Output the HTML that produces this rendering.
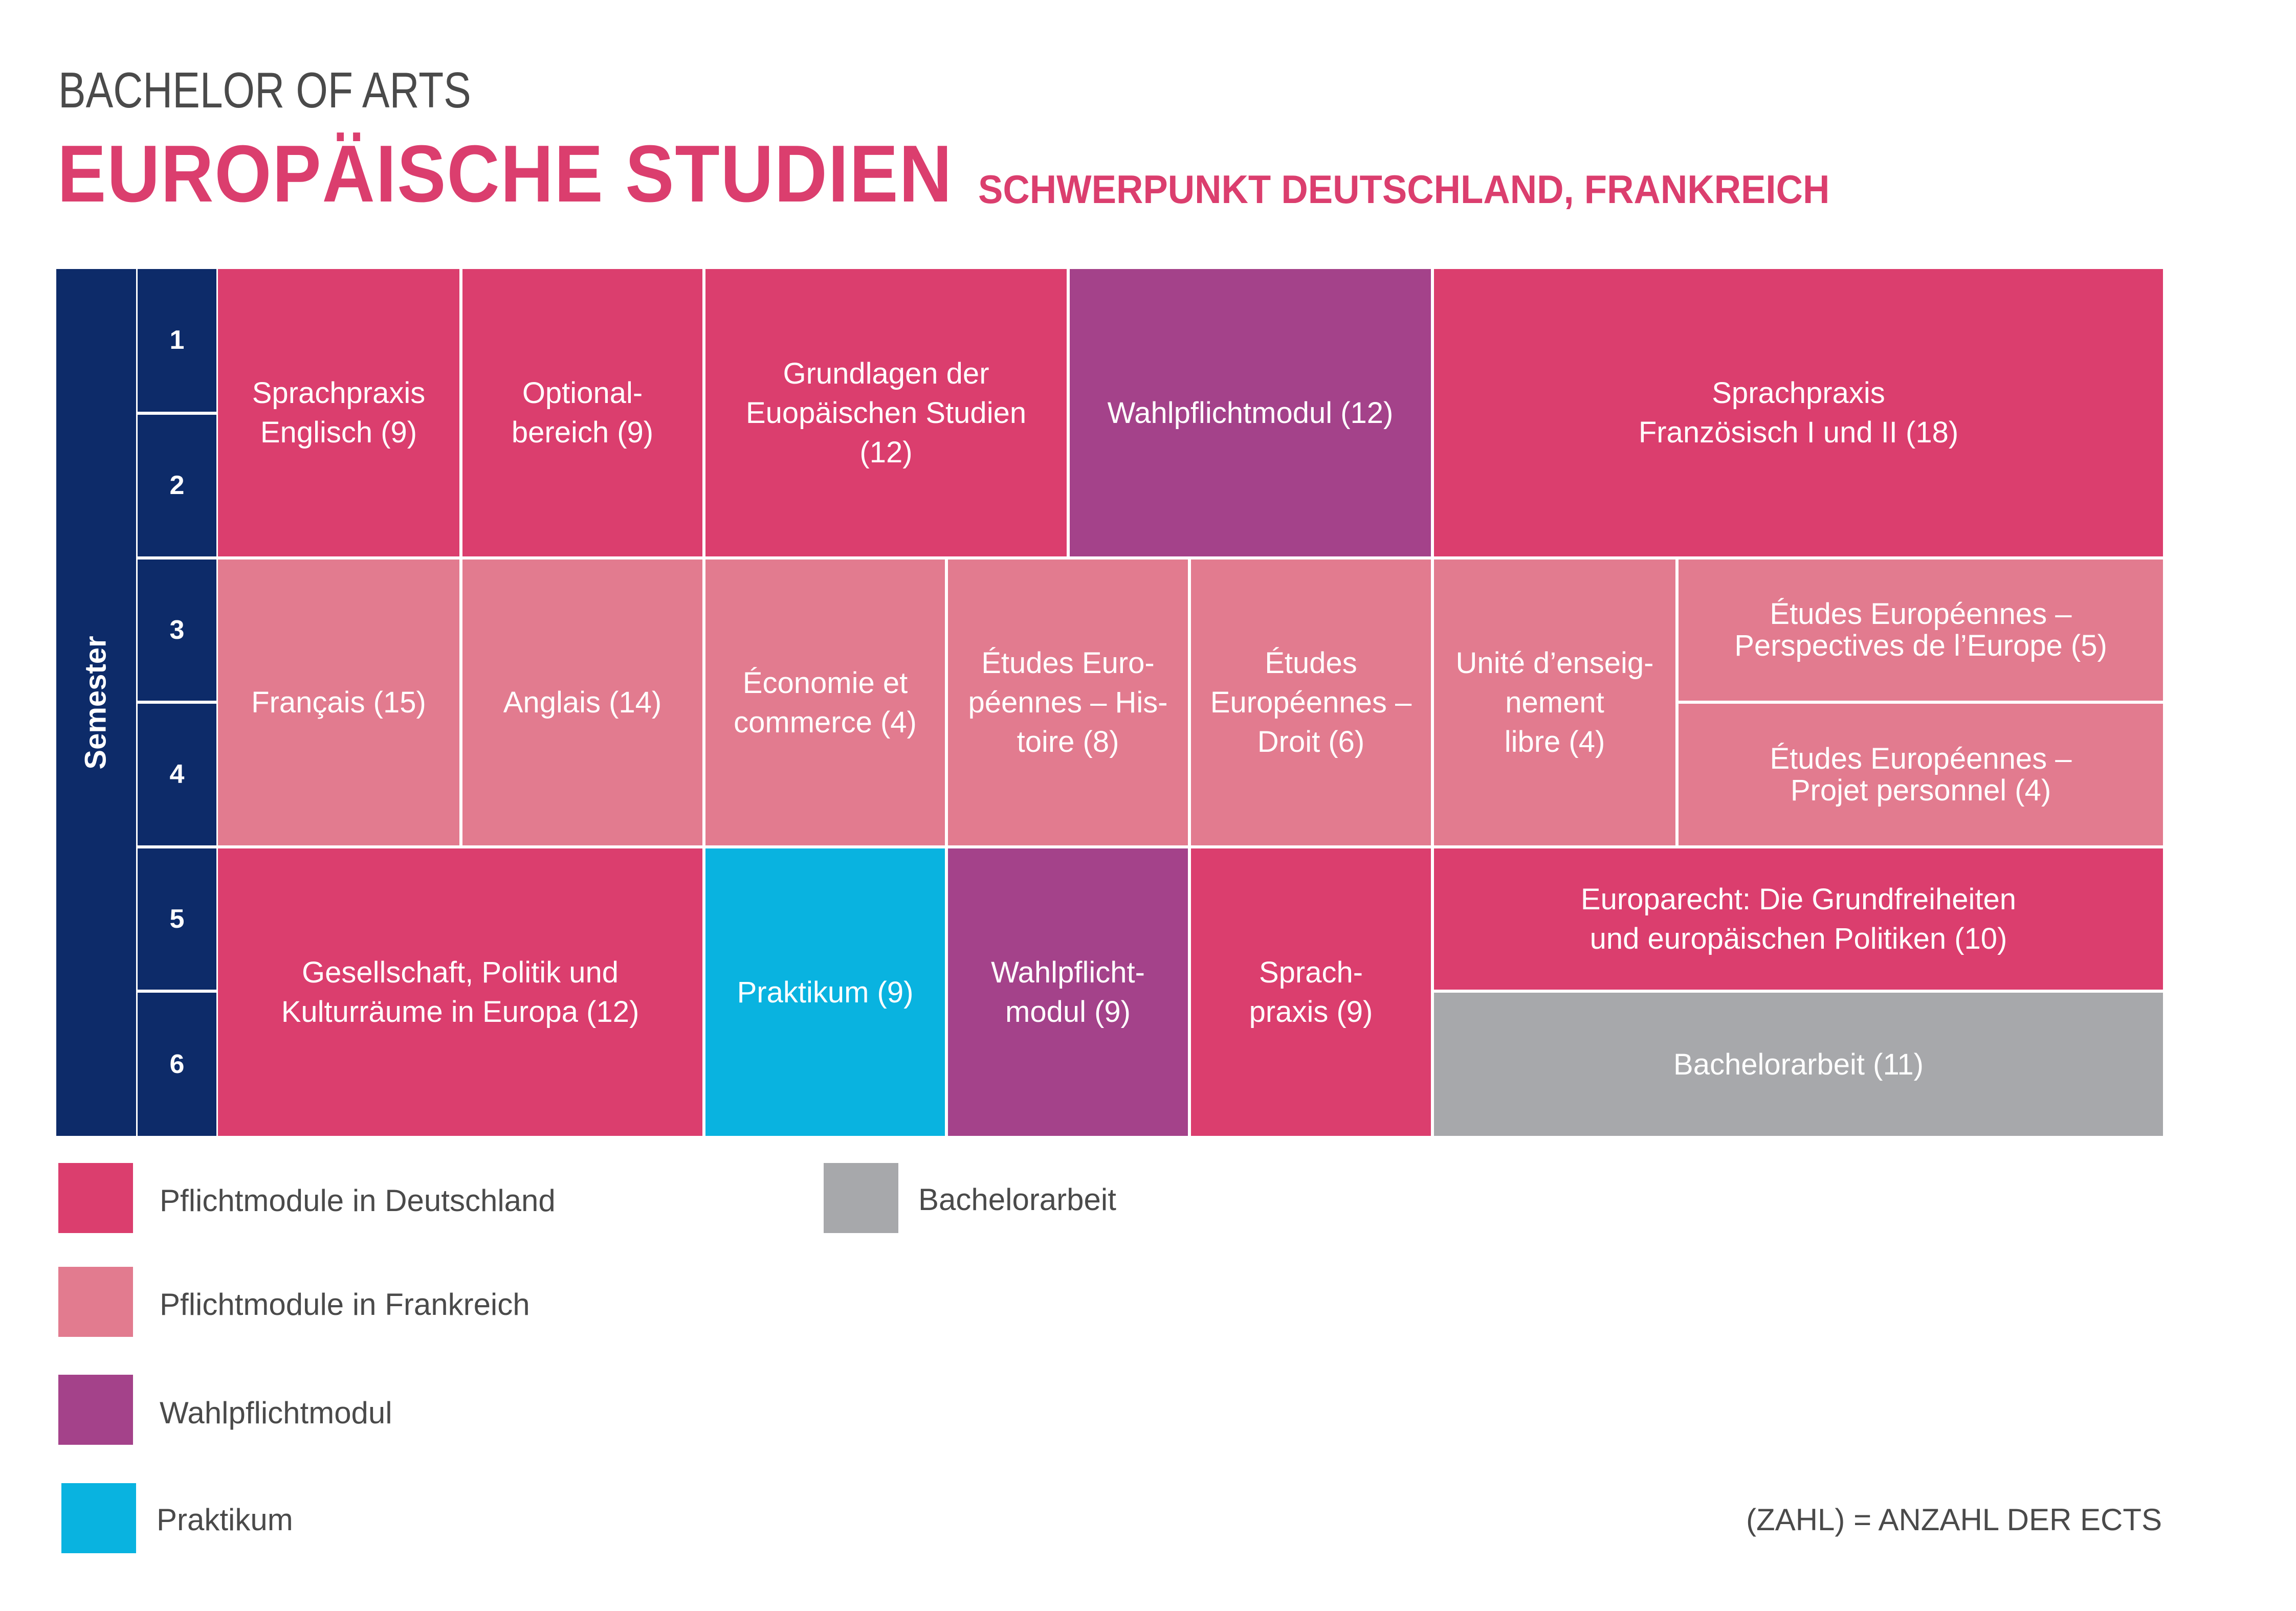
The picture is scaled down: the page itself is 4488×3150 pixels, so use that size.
<!DOCTYPE html>
<html><head><meta charset="utf-8"><style>
*{margin:0;padding:0;box-sizing:border-box}
body{width:4488px;height:3150px;background:#fff;position:relative;overflow:hidden;font-family:"Liberation Sans",sans-serif}
.t{position:absolute;white-space:nowrap;transform-origin:0 0}
.c{position:absolute;display:flex;align-items:center;justify-content:center;text-align:center;color:#fff;font-size:58px;line-height:77px}
.p{background:#db3e6e}.l{background:#e27b8f}.v{background:#a4428a}.k{background:#09b3e0}.g{background:#a7a8ab}.n{background:#0d2b69}
.num{font-weight:bold;font-size:52px}
.sw{position:absolute;width:146px;height:137px}
.lg{position:absolute;font-size:60px;color:#4a4a4a;line-height:60px}
</style></head><body>
<div class="t" style="left:114px;top:120px;font-size:98px;color:#4a4a4a;transform:scaleX(0.82)">BACHELOR OF ARTS</div>
<div class="t" style="left:112px;top:250px;font-size:158px;color:#db3e6e;font-weight:bold;letter-spacing:2px;transform:scaleX(0.905)">EUROPÄISCHE STUDIEN</div>
<div class="t" style="left:1912px;top:325px;font-size:78px;color:#db3e6e;font-weight:bold;transform:scaleX(0.93)">SCHWERPUNKT DEUTSCHLAND, FRANKREICH</div>

<div class="c n" style="left:110px;top:526px;width:156px;height:1695px"><div style="transform:rotate(-90deg);font-size:58px;font-weight:bold;line-height:58px">Semester</div></div>
<div class="c n num" style="left:269px;top:526px;width:154px;height:279px">1</div>
<div class="c n num" style="left:269px;top:811px;width:154px;height:277px">2</div>
<div class="c n num" style="left:269px;top:1094px;width:154px;height:276px">3</div>
<div class="c n num" style="left:269px;top:1376px;width:154px;height:277px">4</div>
<div class="c n num" style="left:269px;top:1659px;width:154px;height:276px">5</div>
<div class="c n num" style="left:269px;top:1941px;width:154px;height:280px">6</div>

<div class="c p" style="left:426px;top:526px;width:472px;height:562px">Sprachpraxis<br>Englisch (9)</div>
<div class="c p" style="left:904px;top:526px;width:469px;height:562px">Optional-<br>bereich (9)</div>
<div class="c p" style="left:1379px;top:526px;width:706px;height:562px">Grundlagen der<br>Euopäischen Studien<br>(12)</div>
<div class="c v" style="left:2091px;top:526px;width:706px;height:562px">Wahlpflichtmodul (12)</div>
<div class="c p" style="left:2803px;top:526px;width:1425px;height:562px">Sprachpraxis<br>Französisch I und II (18)</div>
<div class="c l" style="left:426px;top:1094px;width:472px;height:559px">Français (15)</div>
<div class="c l" style="left:904px;top:1094px;width:469px;height:559px">Anglais (14)</div>
<div class="c l" style="left:1379px;top:1094px;width:468px;height:559px">Économie et<br>commerce (4)</div>
<div class="c l" style="left:1853px;top:1094px;width:469px;height:559px">Études Euro-<br>péennes – His-<br>toire (8)</div>
<div class="c l" style="left:2328px;top:1094px;width:469px;height:559px">Études<br>Européennes –<br>Droit (6)</div>
<div class="c l" style="left:2803px;top:1094px;width:472px;height:559px">Unité d’enseig-<br>nement<br>libre (4)</div>
<div class="c l" style="left:3281px;top:1094px;width:947px;height:276px;line-height:62px">Études Européennes –<br>Perspectives de l’Europe (5)</div>
<div class="c l" style="left:3281px;top:1376px;width:947px;height:277px;line-height:62px">Études Européennes –<br>Projet personnel (4)</div>
<div class="c p" style="left:426px;top:1659px;width:947px;height:562px">Gesellschaft, Politik und<br>Kulturräume in Europa (12)</div>
<div class="c k" style="left:1379px;top:1659px;width:468px;height:562px">Praktikum (9)</div>
<div class="c v" style="left:1853px;top:1659px;width:469px;height:562px">Wahlpflicht-<br>modul (9)</div>
<div class="c p" style="left:2328px;top:1659px;width:469px;height:562px">Sprach-<br>praxis (9)</div>
<div class="c p" style="left:2803px;top:1659px;width:1425px;height:276px">Europarecht: Die Grundfreiheiten<br>und europäischen Politiken (10)</div>
<div class="c g" style="left:2803px;top:1941px;width:1425px;height:280px">Bachelorarbeit (11)</div>

<div class="sw p" style="left:114px;top:2274px"></div>
<div class="sw l" style="left:114px;top:2477px"></div>
<div class="sw v" style="left:114px;top:2688px"></div>
<div class="sw k" style="left:120px;top:2900px"></div>
<div class="sw g" style="left:1610px;top:2274px"></div>
<div class="lg" style="left:312px;top:2318px">Pflichtmodule in Deutschland</div>
<div class="lg" style="left:312px;top:2521px">Pflichtmodule in Frankreich</div>
<div class="lg" style="left:312px;top:2733px">Wahlpflichtmodul</div>
<div class="lg" style="left:306px;top:2942px">Praktikum</div>
<div class="lg" style="left:1795px;top:2316px">Bachelorarbeit</div>
<div class="lg" style="right:262px;top:2942px">(ZAHL) = ANZAHL DER ECTS</div>
</body></html>
